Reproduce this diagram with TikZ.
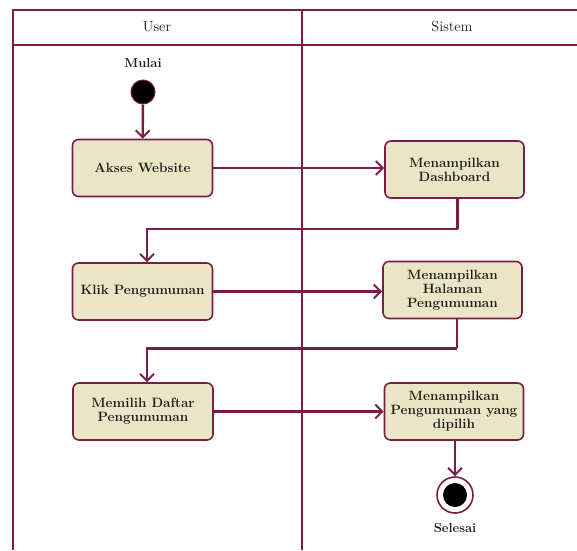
\documentclass[tikz,border=0pt]{standalone}
\usetikzlibrary{arrows.meta,calc}
\definecolor{maroon}{HTML}{7A1E45}
\definecolor{boxfill}{HTML}{E9E5C6}
\definecolor{ink}{HTML}{1E1E14}
\tikzset{
  lane/.style={draw=maroon, line width=2pt},
  action/.style={draw=maroon, line width=1.6pt, fill=boxfill, rounded corners=6pt,
    minimum width=140pt, minimum height=57pt, align=center, text=ink,
    font=\fontsize{13.5}{14}\selectfont\bfseries, inner sep=2pt},
  flow/.style={draw=maroon, line width=2.4pt, -{Straight Barb[length=7pt,width=14pt,line width=2pt]}},
  link/.style={draw=maroon, line width=2.4pt},
  label/.style={text=ink, font=\fontsize{13}{14}\selectfont\bfseries},
  head/.style={text=ink, font=\fontsize{14.5}{16}\selectfont}
}
\begin{document}
\begin{tikzpicture}[x=1pt,y=-1pt]
  \useasboundingbox (0,0) rectangle (577,550);
  \fill[white] (0,0) rectangle (577,550);

  % swimlane frame
  \draw[lane] (577,10) -- (13,10) -- (13,550);
  \draw[lane] (13,45) -- (577,45);
  \draw[lane] (302,10) -- (302,550);
  \node[head] (huser) at (157,27) {User};
  \node[head] (hsys) at (452,27) {Sistem};

  % start and end states
  \node[label] (mulai) at (143,63) {Mulai};
  \node[circle, fill=black, draw=maroon, line width=1pt, minimum size=24pt, inner sep=0pt] (start) at (143,92) {};
  \node[circle, draw=maroon, line width=1.6pt, fill=white, minimum size=36pt, inner sep=0pt] (stop) at (455,495) {};
  \node[circle, fill=black, minimum size=24pt, inner sep=0pt] (stopdot) at (stop.center) {};
  \node[label] (selesai) at (455,528) {Selesai};

  % actions
  \node[action] (akses) at (142.5,168) {Akses Website};
  \node[action, minimum width=139pt] (dash) at (454.5,169.5) {Menampilkan\\Dashboard};
  \node[action] (klik) at (142.5,291.5) {Klik Pengumuman};
  \node[action, minimum width=139pt] (hal) at (452.5,290) {Menampilkan\\Halaman\\Pengumuman};
  \node[action] (pilih) at (143,411.5) {Memilih Daftar\\Pengumuman};
  \node[action, minimum width=139pt] (tampil) at (454,411.5) {Menampilkan\\Pengumuman yang\\dipilih};

  % turning points of the return flows
  \coordinate (t1) at ($(dash.south)+(3,30)$);
  \coordinate (t2) at ($(hal.south)+(4.5,29)$);

  % flows
  \draw[flow] (start) -- (akses);
  \draw[flow] (akses) -- (akses -| dash.west);
  \draw[link] ([xshift=3pt]dash.south) -- (t1);
  \draw[flow] (t1) -| ([xshift=4.5pt]klik.north);
  \draw[flow] (klik) -- (klik -| hal.west);
  \draw[link] ([xshift=4.5pt]hal.south) -- (t2);
  \draw[flow] (t2) -| ([xshift=4pt]pilih.north);
  \draw[flow] (pilih) -- (pilih -| tampil.west);
  \draw[flow] (tampil.south -| stop) -- (stop);
\end{tikzpicture}
\end{document}
